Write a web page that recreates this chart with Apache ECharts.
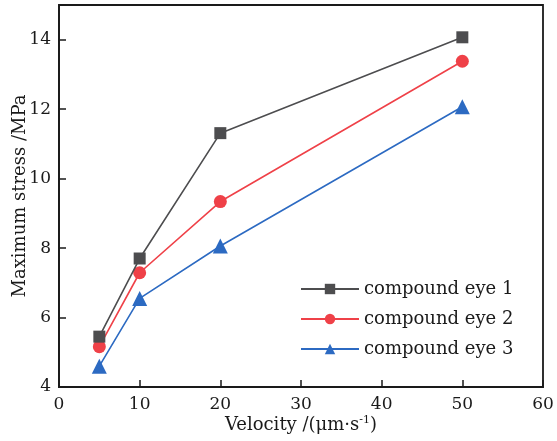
<!DOCTYPE html>
<html><head><meta charset="utf-8">
<script src="https://cdn.jsdelivr.net/npm/echarts@6/dist/echarts.min.js"></script>
<style>html,body{margin:0;padding:0;background:#fff}#c{width:557px;height:441px}</style>
</head><body><div id="c"></div>
<script>
const velocities = [5, 10, 20, 50];
const seriesNames = ['compound eye 1', 'compound eye 2', 'compound eye 3'];
const eye1 = [5.45, 7.70, 11.31, 14.07];
const eye2 = [5.16, 7.29, 9.34, 13.38];
const eye3 = [4.60, 6.55, 8.06, 12.07];
const xTicks = [0, 10, 20, 30, 40, 50, 60];
const yTicks = [4, 6, 8, 10, 12, 14];

const FONT = '"DejaVu Serif", "Liberation Serif", serif';
const colors = ['#4d4d4f', '#ef4148', '#2c6ac2'];
const symbols = ['rect', 'circle', 'triangle'];
const sizes = [12, 13, 15];
const all = [eye1, eye2, eye3];

const chart = echarts.init(document.getElementById('c'), null, {renderer: 'canvas'});
chart.setOption({
  animation: false,
  backgroundColor: '#fff',
  grid: {left: 59, right: 14, top: 5, bottom: 54, containLabel: false, outerBoundsMode: 'none',
    show: true, borderColor: '#1a1a1a', borderWidth: 1.8, backgroundColor: 'transparent'},
  legend: {
    orient: 'vertical', left: 295, top: 275,
    itemWidth: 58, itemHeight: 13, itemGap: 12,
    textStyle: {fontFamily: FONT, fontSize: 18, color: '#1a1a1a'},
    data: seriesNames
  },
  xAxis: {
    type: 'value', min: 0, max: 60, interval: 10,
    name: 'Velocity /(μm·s{sup|-1})',
    nameLocation: 'middle', nameGap: 28, nameMoveOverlap: false,
    nameTextStyle: {fontFamily: FONT, fontSize: 18, color: '#1a1a1a',
      rich: {sup: {fontFamily: FONT, fontSize: 11, verticalAlign: 'top', padding: [0,0,9,0], color: '#1a1a1a'}}},
    axisLine: {show: true, lineStyle: {color: '#1a1a1a', width: 1.8}},
    axisTick: {show: true, inside: true, length: 7, lineStyle: {color: '#1a1a1a', width: 1.5}},
    axisLabel: {fontFamily: FONT, fontSize: 17, color: '#1a1a1a', margin: 9},
    splitLine: {show: false}
  },
  yAxis: {
    type: 'value', min: 4, max: 15, interval: 2,
    name: 'Maximum stress /MPa',
    nameLocation: 'middle', nameGap: 30, nameMoveOverlap: false,
    nameTextStyle: {fontFamily: FONT, fontSize: 18, color: '#1a1a1a'},
    axisLine: {show: true, lineStyle: {color: '#1a1a1a', width: 1.8}},
    axisTick: {show: true, inside: true, length: 7, lineStyle: {color: '#1a1a1a', width: 1.5}},
    axisLabel: {fontFamily: FONT, fontSize: 17, color: '#1a1a1a', margin: 8,
      formatter: v => (yTicks.indexOf(v) >= 0 ? String(v) : '')},
    splitLine: {show: false}
  },
  series: all.map((vals, i) => ({
    name: seriesNames[i],
    type: 'line',
    data: velocities.map((v, j) => [v, vals[j]]),
    symbol: symbols[i], symbolSize: sizes[i],
    lineStyle: {color: colors[i], width: 1.6},
    itemStyle: {color: colors[i]},
    z: 3 - i
  }))
});
</script></body></html>
